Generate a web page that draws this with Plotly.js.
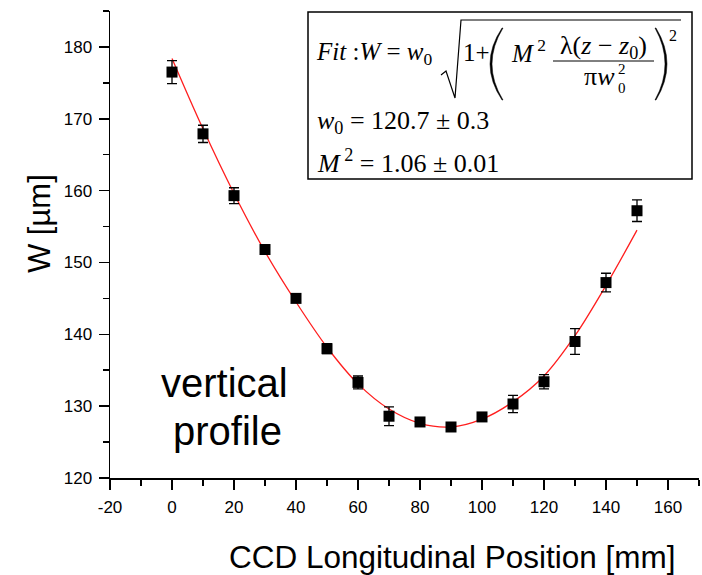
<!DOCTYPE html>
<html>
<head>
<meta charset="utf-8">
<script src="https://cdn.plot.ly/plotly-3.0.1.min.js"></script>
<style>html,body{margin:0;padding:0;background:#fff;}#chart{width:702px;height:575px;}</style>
</head>
<body>
<div id="chart"></div>
<script>
// ---- data ----
var positions = [0, 10, 20, 30, 40, 50, 60, 70, 80, 90, 100, 110, 120, 130, 140, 150];
var widths    = [176.5, 167.9, 159.3, 151.8, 145.0, 138.0, 133.3, 128.6, 127.8, 127.1, 128.5, 130.3, 133.4, 139.0, 147.2, 157.2];
var widthErr  = [1.6, 1.2, 1.1, 0.6, 0.3, 0.7, 0.9, 1.3, 0.4, 0.5, 0.5, 1.2, 1.0, 1.8, 1.3, 1.5];
var fitPositions = [0, 10, 20, 30, 40, 50, 60, 70, 80, 90, 100, 110, 120, 130, 140, 150];
var fitWidths    = [178.4, 168.6, 159.6, 151.5, 144.5, 138.2, 133.1, 129.6, 127.6, 127.1, 128.2, 130.6, 134.2, 139.8, 146.8, 154.5];
var xTickVals = [-20, 0, 20, 40, 60, 80, 100, 120, 140, 160];
var xTickText = ['-20', '0', '20', '40', '60', '80', '100', '120', '140', '160'];
var yTickVals = [120, 130, 140, 150, 160, 170, 180];
var yTickText = ['120', '130', '140', '150', '160', '170', '180'];

// ---- layout helpers (pixel -> paper) ----
var L = 110, R = 3, T = 11, B = 97, W = 702, H = 575;
var PW = W - L - R, PH = H - T - B;
function px(x) { return (x - L) / PW; }
function py(y) { return (H - B - y) / PH; }
function path(cmds) {
  return cmds.map(function (c) {
    if (c.length === 1) return c[0];
    var out = c[0];
    for (var i = 1; i < c.length; i += 2) out += ' ' + px(c[i]) + ',' + py(c[i + 1]);
    return out;
  }).join(' ');
}

var serif = 'Liberation Serif, Times New Roman, serif';
var sans = 'Liberation Sans, Arial, Helvetica, sans-serif';
var NB = '\u00A0';

function txt(text, x, y, size, xanchor, family, extra) {
  var a = {
    text: text, x: px(x), y: py(y), xref: 'paper', yref: 'paper',
    xanchor: xanchor || 'left', yanchor: 'middle', showarrow: false,
    font: { family: family || serif, size: size, color: '#000' }
  };
  if (extra) for (var k in extra) a[k] = extra[k];
  return a;
}

var traces = [
  {
    x: fitPositions, y: fitWidths, type: 'scatter', mode: 'lines',
    line: { color: 'rgb(255,30,30)', width: 1.3, shape: 'spline' },
    hoverinfo: 'skip'
  },
  {
    x: positions, y: widths, type: 'scatter', mode: 'markers',
    marker: { symbol: 'square', size: 11, color: '#000' },
    error_y: { type: 'data', array: widthErr, visible: true, color: '#000', thickness: 1.3, width: 5 }
  }
];

var shapes = [
  { type: 'rect', xref: 'paper', yref: 'paper', x0: px(308), x1: px(692), y0: py(179), y1: py(12),
    line: { color: '#000', width: 1.5 }, fillcolor: 'rgba(255,255,255,1)', layer: 'above' },
  // radical sign
  { type: 'path', xref: 'paper', yref: 'paper', layer: 'above',
    path: path([['M', 441, 75], ['L', 446, 71], ['L', 455, 98], ['L', 461, 20], ['L', 681, 20]]),
    line: { color: '#000', width: 1.2 } },
  // big left parenthesis
  { type: 'path', xref: 'paper', yref: 'paper', layer: 'above',
    path: path([['M', 502, 28], ['Q', 478, 64, 502, 100], ['L', 503, 100], ['Q', 481, 64, 503, 28], ['Z']]),
    fillcolor: '#000', line: { color: '#000', width: 0.5 } },
  // big right parenthesis
  { type: 'path', xref: 'paper', yref: 'paper', layer: 'above',
    path: path([['M', 656, 28], ['Q', 678, 64, 656, 100], ['L', 655, 100], ['Q', 675, 64, 655, 28], ['Z']]),
    fillcolor: '#000', line: { color: '#000', width: 0.5 } },
  // fraction bar
  { type: 'line', xref: 'paper', yref: 'paper', layer: 'above',
    x0: px(553), x1: px(654), y0: py(61), y1: py(61), line: { color: '#000', width: 1 } }
];

var annotations = [
  txt('<i>Fit</i>' + NB + ':<i>W</i>' + NB + '=' + NB + '<i>w</i><sub>0</sub>', 314, 53, 25),
  txt('1+', 461, 52, 25),
  txt('<i>M</i><sup>' + NB + '2</sup>', 509, 51, 25),
  txt('λ(<i>z</i>' + NB + '−' + NB + '<i>z</i><sub>0</sub>)', 603, 47, 26, 'center'),
  txt('π<i>w</i>', 599, 76, 26, 'center'),
  txt('2', 622, 69, 15, 'center'),
  txt('0', 622, 88, 15, 'center'),
  txt('2', 673, 35, 16, 'center'),
  txt('<i>w</i><sub>0</sub>' + NB + '=' + NB + '120.7' + NB + '±' + NB + '0.3', 315, 122, 26),
  txt('<i>M</i><sup>' + NB + '2</sup>' + NB + '=' + NB + '1.06' + NB + '±' + NB + '0.01', 315, 161, 26),
  txt('vertical', 224, 383, 40, 'center', sans),
  txt('profile', 227, 431, 40, 'center', sans),
  txt('CCD Longitudinal Position [mm]', 452, 557, 31.5, 'center', sans),
  txt('W [µm]', 39, 224, 31, 'center', sans, { textangle: -90 })
];

var axisCommon = {
  showgrid: false, zeroline: false, showline: true, linecolor: '#000', linewidth: 1.5,
  ticks: 'outside', ticklen: 10, tickwidth: 1.5, tickcolor: '#000', ticklabelstandoff: 3,
  tickfont: { family: sans, size: 17, color: '#000' }, mirror: false
};

var layout = {
  width: W, height: H,
  margin: { l: L, r: R, t: T, b: B, pad: 0 },
  paper_bgcolor: '#fff', plot_bgcolor: '#fff',
  showlegend: false,
  xaxis: Object.assign({}, axisCommon, {
    range: [-20, 170], tickmode: 'array', tickvals: xTickVals, ticktext: xTickText,
    minor: { tickmode: 'linear', tick0: -20, dtick: 10, ticks: 'outside', ticklen: 6, tickwidth: 1.5, tickcolor: '#000' }
  }),
  yaxis: Object.assign({}, axisCommon, {
    range: [120, 185], tickmode: 'array', tickvals: yTickVals, ticktext: yTickText,
    minor: { tickmode: 'linear', tick0: 120, dtick: 5, ticks: 'outside', ticklen: 6, tickwidth: 1.5, tickcolor: '#000' }
  }),
  shapes: shapes,
  annotations: annotations
};

Plotly.newPlot('chart', traces, layout, { displayModeBar: false, staticPlot: true });
</script>
</body>
</html>
